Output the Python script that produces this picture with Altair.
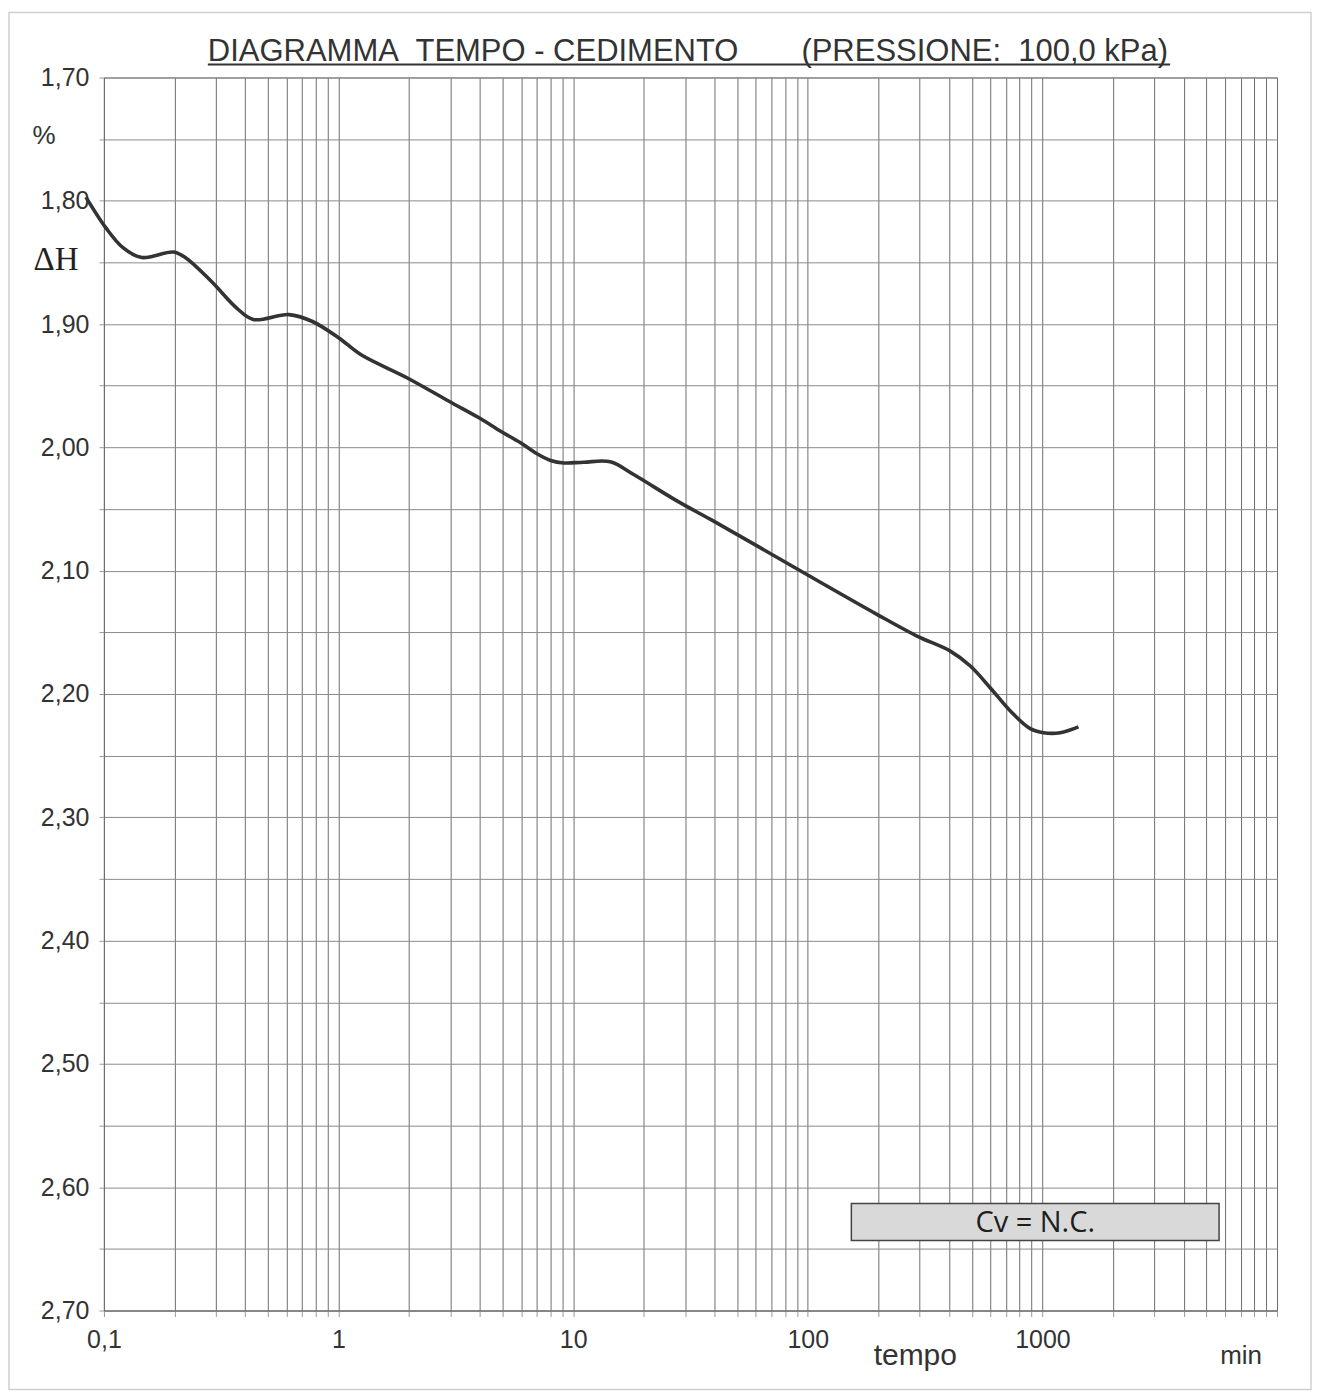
import altair as alt
import pandas as pd

# ---- data ----
tempo_min = [0.0838, 0.102, 0.1205, 0.145, 0.198, 0.2236, 0.2867, 0.368, 0.433, 0.615, 0.77,
             1.0, 1.243, 1.965, 2.955, 3.97, 4.91, 5.97, 6.92, 8.02, 9.13, 11.1, 14.4, 18.1,
             27.8, 38.5, 56, 96.1, 197, 292, 405, 493, 599, 730, 888, 1011, 1191, 1425]
cedimento = [1.797, 1.822, 1.838, 1.846, 1.8416, 1.8464, 1.8653, 1.887, 1.8963, 1.8923, 1.8977,
             1.911, 1.9247, 1.9437, 1.9626, 1.976, 1.9869, 1.9963, 2.0045, 2.0106, 2.0126, 2.012,
             2.0117, 2.022, 2.0436, 2.0584, 2.076, 2.1017, 2.1354, 2.153, 2.1652, 2.1773, 2.1949,
             2.2138, 2.2281, 2.2314, 2.2314, 2.2267]

x_label_values = [0.1, 1, 10, 100, 1000]
x_label_texts = ["0,1", "1", "10", "100", "1000"]
y_domain = [1.70, 2.70]
x_domain = [0.1, 10000]

title_left = "DIAGRAMMA\u00a0 TEMPO - CEDIMENTO"
title_right = "(PRESSIONE:\u00a0 100,0 kPa)"
cv_text = "Cv = N.C."

# grid positions
x_grid = []
for e in range(-1, 4):
    for k in range(1, 10):
        x_grid.append(round(k * 10 ** e, 6))
x_grid.append(10000)
y_grid = [round(1.70 + 0.05 * i, 2) for i in range(21)]

x_expr = " : ".join(
    f"datum.value == {v} ? '{t}'" for v, t in zip(x_label_values, x_label_texts)
) + " : ''"
y_expr = ("abs(datum.value*10 - round(datum.value*10)) < 0.001 ? "
          "replace(format(datum.value, '.2f'), '.', ',') : ''")

df = pd.DataFrame({"t": tempo_min, "dh": cedimento})
one = pd.DataFrame({"a": [0]})

FONT = "Liberation Sans"

line = alt.Chart(df).mark_line(
    color="#333333", strokeWidth=3.6, interpolate="catmull-rom"
).encode(
    x=alt.X("t:Q",
            scale=alt.Scale(type="log", domain=x_domain, nice=False),
            axis=alt.Axis(values=x_grid, labelExpr=x_expr, title=None, grid=True,
                          gridColor="#6e6e6e", gridWidth=1, tickSize=6, tickColor="#9a9a9a",
                          domainColor="#6e6e6e", labelFont=FONT, labelFontSize=25,
                          labelColor="#333333", labelPadding=11, labelFlush=False,
                          labelOverlap=False, labelBound=False)),
    y=alt.Y("dh:Q",
            scale=alt.Scale(domain=y_domain, reverse=True, zero=False, nice=False),
            axis=alt.Axis(values=y_grid, labelExpr=y_expr, title=None, grid=True,
                          gridColor="#8a8a8a", gridWidth=1, tickSize=5, tickColor="#9a9a9a",
                          domainColor="#6e6e6e", labelFont=FONT, labelFontSize=25,
                          labelColor="#333333", labelPadding=10, labelOverlap=False,
                          labelBound=False)),
)

frame = alt.Chart(one).mark_rect(fillOpacity=0, stroke="#cfcfcf", strokeWidth=1.5).encode(
    x=alt.value(-95), x2=alt.value(1208), y=alt.value(-65), y2=alt.value(1313)
)

box = alt.Chart(one).mark_rect(fill="#d9d9d9", stroke="#444444", strokeWidth=1.5).encode(
    x=alt.value(748), x2=alt.value(1116), y=alt.value(1127), y2=alt.value(1164)
)
box_text = alt.Chart(one).mark_text(font="Open Sans", fontSize=29, color="#1e1e1e",
                                    baseline="middle", align="center").encode(
    x=alt.value(932), y=alt.value(1146), text=alt.value(cv_text)
)

t1 = alt.Chart(one).mark_text(font=FONT, fontSize=31, color="#333333",
                              baseline="alphabetic", align="left").encode(
    x=alt.value(104), y=alt.value(-16), text=alt.value(title_left)
)
t2 = alt.Chart(one).mark_text(font=FONT, fontSize=31, color="#333333",
                              baseline="alphabetic", align="left").encode(
    x=alt.value(698), y=alt.value(-16), text=alt.value(title_right)
)
underline = alt.Chart(one).mark_rule(color="#333333", strokeWidth=2).encode(
    x=alt.value(104), x2=alt.value(1067), y=alt.value(-13)
)

pct = alt.Chart(one).mark_text(font=FONT, fontSize=26, color="#333333",
                               baseline="middle", align="center").encode(
    x=alt.value(-60), y=alt.value(59), text=alt.value("%")
)
dH = alt.Chart(one).mark_text(font="Liberation Serif", fontSize=33, color="#222222",
                              baseline="middle", align="center").encode(
    x=alt.value(-48), y=alt.value(183), text=alt.value("\u0394H")
)
tempo = alt.Chart(one).mark_text(font=FONT, fontSize=30, color="#333333",
                                 baseline="middle", align="center").encode(
    x=alt.value(812), y=alt.value(1280), text=alt.value("tempo")
)
minu = alt.Chart(one).mark_text(font=FONT, fontSize=26, color="#333333",
                                baseline="middle", align="center").encode(
    x=alt.value(1138), y=alt.value(1280), text=alt.value("min")
)

chart = alt.layer(frame, line, box, box_text, t1, t2, underline, pct, dH, tempo, minu).properties(
    width=1174, height=1234,
    padding={"left": 0, "top": 3, "right": 0, "bottom": 0},
    background="white",
).configure_view(stroke="#6e6e6e", strokeWidth=1)

chart.save("out.html", embed_options={"renderer": "svg", "actions": False})
